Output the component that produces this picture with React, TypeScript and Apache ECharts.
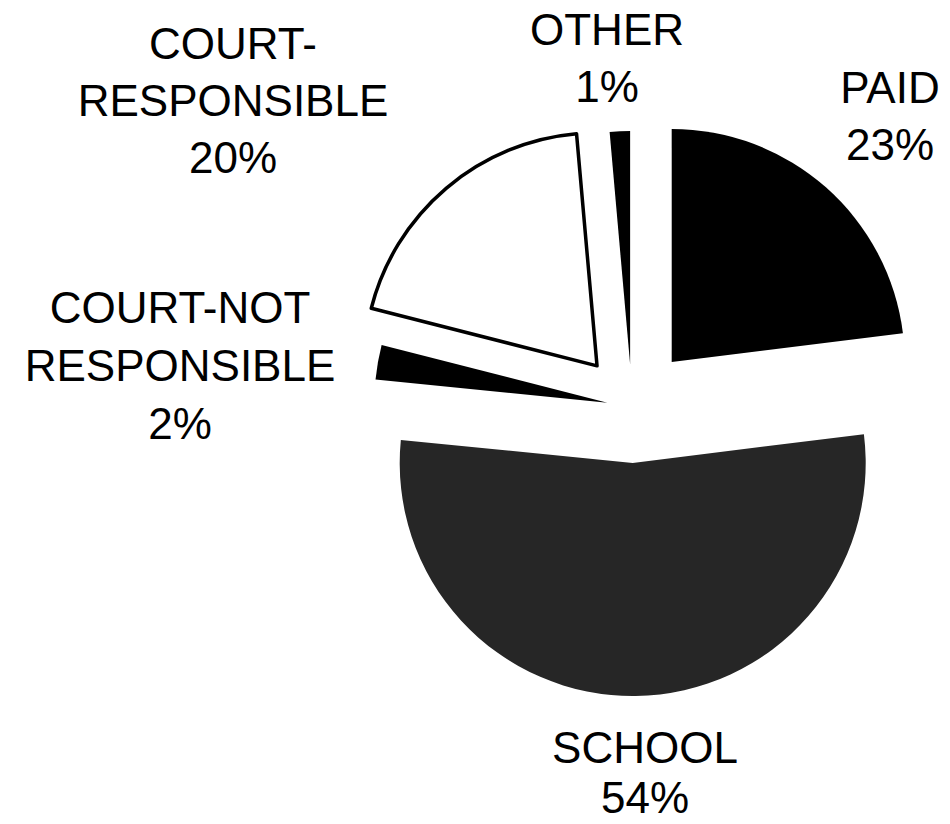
import React, { useEffect, useRef } from 'react';
import * as echarts from 'echarts';

const categories = ['PAID', 'SCHOOL', 'COURT-NOT\nRESPONSIBLE', 'COURT-\nRESPONSIBLE', 'OTHER'];
const values = [23.0, 53.5, 2.4, 19.6, 1.4];
const sliceColors = ['#000000', '#262626', '#000000', '#ffffff', '#000000'];
const sliceBorders = [0, 0, 0, 3.5, 0];
const explodeOffsets = [60, 56, 25, 54, 43];
const labelAnchors: [number, number][] = [[890, 116], [645, 772], [180, 365], [233, 100], [607, 58]];
const labelLineHeights = [57, 50, 58, 57, 57];

export default function App() {
  const ref = useRef<HTMLDivElement>(null);
  useEffect(() => {
    if (!ref.current) return;
    const chart = echarts.init(ref.current, undefined, { renderer: 'svg' });
    const total = values.reduce((a, b) => a + b, 0);
    const series = categories.map((_, i) => {
      const style = { color: sliceColors[i], borderColor: '#000', borderWidth: sliceBorders[i] };
      const hidden = { color: 'rgba(0,0,0,0)', borderWidth: 0 };
      return {
        type: 'pie',
        center: [632, 407],
        radius: [0, 233],
        startAngle: 90,
        clockwise: true,
        avoidLabelOverlap: false,
        selectedMode: 'multiple',
        selectedOffset: explodeOffsets[i],
        silent: true,
        emphasis: { disabled: true },
        labelLine: { show: false },
        label: { show: false },
        data: categories.map((name, j) => ({
          name,
          value: values[j],
          selected: j === i,
          itemStyle: j === i ? style : hidden,
          select: { itemStyle: j === i ? style : hidden, label: { show: false } },
        })),
      };
    });
    const graphic = categories.map((name, i) => ({
      type: 'text',
      x: labelAnchors[i][0],
      y: labelAnchors[i][1],
      silent: true,
      style: {
        text: `${name}\n${Math.round((values[i] / total) * 100)}%`,
        fill: '#000',
        fontSize: 44,
        lineHeight: labelLineHeights[i],
        fontFamily: '"Liberation Sans", Arial, sans-serif',
        align: 'center',
        verticalAlign: 'middle',
      },
    }));
    chart.setOption({
      animation: false,
      backgroundColor: '#ffffff',
      series,
      graphic,
    });
    return () => chart.dispose();
  }, []);
  return (
    <div
      ref={ref}
      style={{ position: 'absolute', left: 0, top: 0, width: 950, height: 824, background: '#fff' }}
    />
  );
}
